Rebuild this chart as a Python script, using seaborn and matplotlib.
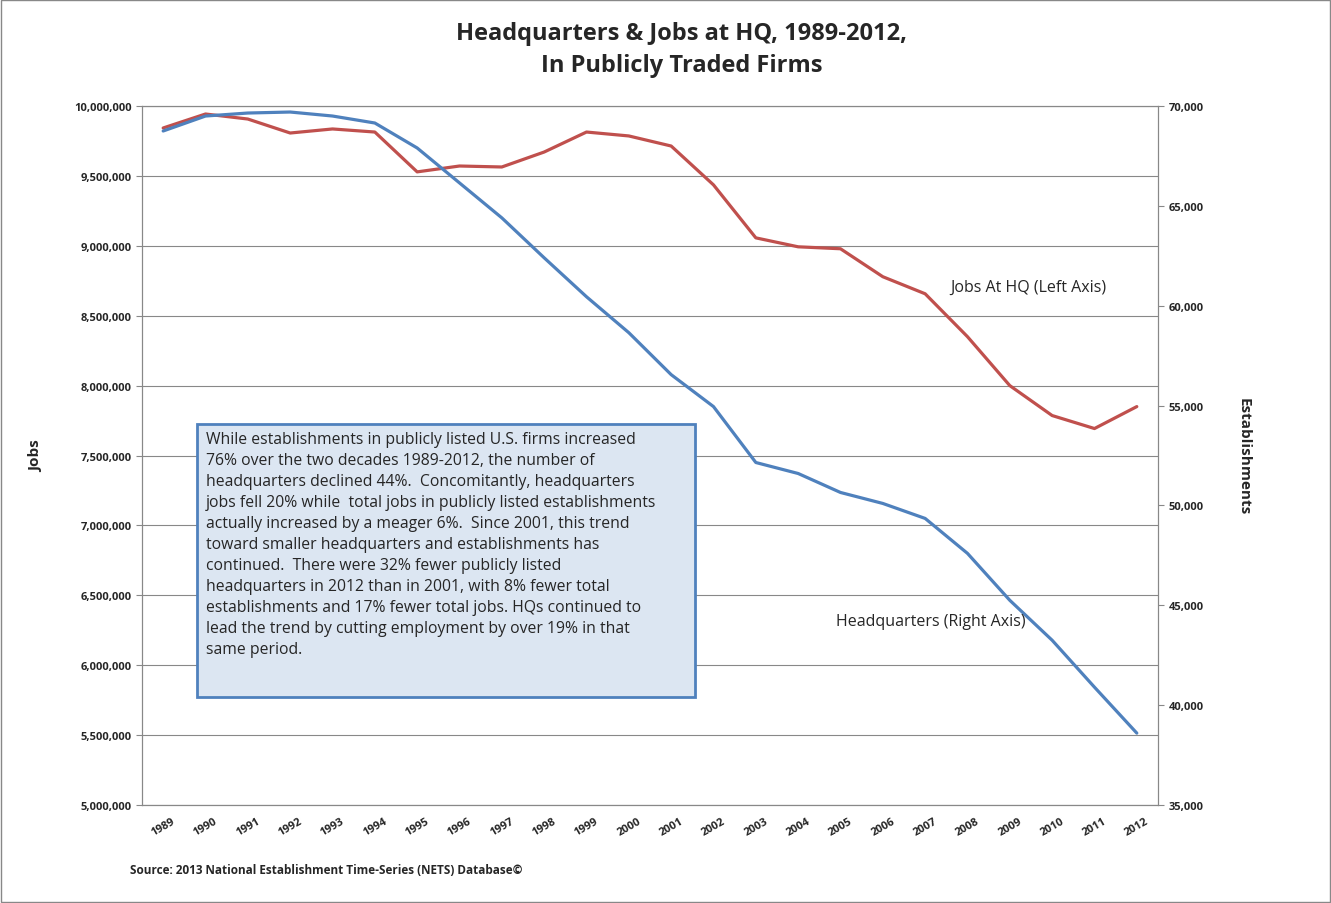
import seaborn as sns
import pandas as pd
import matplotlib.pyplot as plt
import matplotlib.ticker as mticker
from matplotlib.patches import Rectangle

years = list(range(1989, 2013))
jobs_at_hq = [9843000, 9943000, 9907000, 9807000, 9836000, 9814000, 9529000, 9571000,
              9564000, 9671000, 9814000, 9786000, 9714000, 9436000, 9057000, 8993000,
              8979000, 8779000, 8657000, 8350000, 8000000, 7786000, 7693000, 7850000]
headquarters = [68750, 69500, 69650, 69700, 69500, 69150, 67900, 66150, 64400, 62400,
                60450, 58650, 56550, 54950, 52150, 51600, 50650, 50100, 49350, 47600,
                45250, 43250, 40900, 38600]

sns.set_style('white')
plt.rcParams['font.family'] = ['Open Sans', 'DejaVu Sans']

df = pd.DataFrame({'year': [str(y) for y in years], 'jobs': jobs_at_hq, 'hq': headquarters})
red = '#C0504D'
blue = '#4F81BD'

fig = plt.figure(figsize=(13.31, 9.04), dpi=100)
ax = fig.add_axes([0.1067, 0.1084, 0.7633, 0.7732])
ax2 = ax.twinx()

sns.lineplot(data=df, x='year', y='jobs', ax=ax, color=red, linewidth=2.3, sort=False)
sns.lineplot(data=df, x='year', y='hq', ax=ax2, color=blue, linewidth=2.3, sort=False)

ax.set_xlim(-0.5, len(years) - 0.5)
ax.set_ylim(5000000, 10000000)
ax2.set_ylim(35000, 70000)
ax.set_yticks(range(5000000, 10000001, 500000))
ax2.set_yticks(range(35000, 70001, 5000))
ax.yaxis.set_major_formatter(mticker.FuncFormatter(lambda v, p: f'{int(v):,}'))
ax2.yaxis.set_major_formatter(mticker.FuncFormatter(lambda v, p: f'{int(v):,}'))
ax.grid(axis='y', color='#888888', linewidth=0.8)
ax.set_axisbelow(True)
for a in (ax, ax2):
    for s in a.spines.values():
        s.set_color('#888888')
    a.tick_params(labelsize=8, length=4, color='#888888')
    for lab in a.get_yticklabels():
        lab.set_fontweight('bold')
ax.set_xticks(range(len(years)))
ax.set_xticklabels([str(y) for y in years], rotation=30, fontsize=8, fontweight='bold')
ax.set_xlabel('')
ax.set_ylabel('Jobs', fontsize=11, fontweight='bold', labelpad=22)
ax2.set_ylabel('Establishments', fontsize=11, fontweight='bold', rotation=270, labelpad=34)

fig.text(0.512, 0.945, 'Headquarters & Jobs at HQ, 1989-2012,\nIn Publicly Traded Firms',
         ha='center', va='center', fontsize=17, fontweight='bold', linespacing=1.45)
ax.text(18.6, 8.71e6, 'Jobs At HQ (Left Axis)', fontsize=11.5, va='center')
ax2.text(15.9, 44200, 'Headquarters (Right Axis)', fontsize=11.5, va='center')

box = ('While establishments in publicly listed U.S. firms increased\n'
       '76% over the two decades 1989-2012, the number of\n'
       'headquarters declined 44%.  Concomitantly, headquarters\n'
       'jobs fell 20% while  total jobs in publicly listed establishments\n'
       'actually increased by a meager 6%.  Since 2001, this trend\n'
       'toward smaller headquarters and establishments has\n'
       'continued.  There were 32% fewer publicly listed\n'
       'headquarters in 2012 than in 2001, with 8% fewer total\n'
       'establishments and 17% fewer total jobs. HQs continued to\n'
       'lead the trend by cutting employment by over 19% in that\n'
       'same period.')
fig.patches.append(Rectangle((197 / 1331, 1 - 698 / 904), 498 / 1331, 273 / 904,
                             transform=fig.transFigure, facecolor='#DCE6F2',
                             edgecolor='#4F81BD', linewidth=2, zorder=5))
fig.text(206 / 1331, 1 - 432 / 904, box, fontsize=11.3, va='top', ha='left',
         linespacing=1.42, zorder=6)

fig.text(130 / 1331, 1 - 871 / 904, 'Source: 2013 National Establishment Time-Series (NETS) Database©',
         fontsize=8.5, fontweight='bold', va='center')
fig.patches.append(Rectangle((0.001, 0.001), 0.998, 0.998, transform=fig.transFigure,
                             fill=False, edgecolor='#888888', linewidth=1))

plt.savefig('out.png', dpi=100)
